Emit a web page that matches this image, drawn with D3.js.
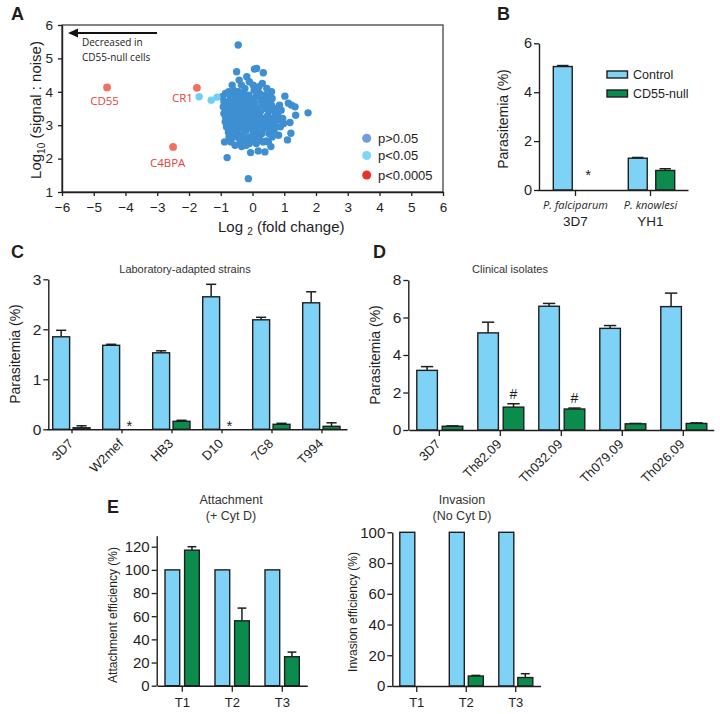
<!DOCTYPE html>
<html><head><meta charset="utf-8">
<script src="https://cdn.jsdelivr.net/npm/d3@7"></script>
<style>body{margin:0;background:#fff} svg{display:block}</style>
</head><body>
<svg id="fig" width="720" height="714"></svg>
<script>
// ===================== DATA =====================
// Panel A: volcano-like scatter (log2 fold change, log10 signal:noise)
const aNsPoints = [
 [-0.45,5.4],[-0.13,1.4],[1.75,3.37],[-0.8,2.03],[-0.88,2.5],[-0.76,2.8],[-0.5,4.6],[-0.18,4.45],
 [0.06,4.68],[0.34,4.57],[0.13,4.7],[-0.64,4.2],[-0.24,4.1],[0.02,4.2],[0.31,4.25],[1.02,3.87],
 [1.13,3.66],[1.23,3.6],[1.34,3.55],[1.36,3.3],[1.18,3.08],[1.21,2.76],[1.1,2.56],[0.58,2.36],
 [0.39,2.2],[0.18,2.23],[-0.06,2.18],[-0.34,2.36],[-0.55,2.4],[0.34,2.5],[0.44,2.53],[0.62,3.8],
 [0.71,3.37],[0.71,2.96],
 [-0.95,3.85],[-0.9,3.7],[-0.92,3.55],[-0.85,3.95],[-0.8,3.4],[-0.85,3.25],[-0.78,3.1],[-0.82,2.95],
 [-0.7,3.8],[-0.72,3.6],[-0.68,3.45],[-0.7,3.3],[-0.65,3.15],[-0.6,3.0],[-0.66,2.85],[-0.6,2.65],
 [-0.58,3.9],[-0.55,3.7],[-0.5,3.55],[-0.55,3.4],[-0.5,3.25],[-0.45,3.1],[-0.52,2.95],[-0.48,2.75],
 [-0.42,2.6],[-0.45,4.0],[-0.4,3.85],[-0.38,3.65],[-0.35,3.5],[-0.4,3.35],[-0.33,3.2],[-0.36,3.05],
 [-0.3,2.9],[-0.32,2.7],[-0.25,2.55],[-0.28,3.95],[-0.22,3.75],[-0.2,3.6],[-0.25,3.45],[-0.18,3.3],
 [-0.22,3.15],[-0.15,3.0],[-0.2,2.85],[-0.12,2.65],[-0.1,2.45],[-0.12,3.9],[-0.05,3.75],[-0.08,3.55],
 [-0.02,3.4],[-0.06,3.25],[0.0,3.1],[-0.03,2.95],[0.02,2.8],[0.05,2.6],[0.05,4.05],[0.1,3.85],
 [0.08,3.65],[0.12,3.5],[0.15,3.3],[0.1,3.15],[0.18,3.0],[0.12,2.85],[0.2,2.7],[0.25,2.55],
 [0.22,3.95],[0.28,3.75],[0.3,3.6],[0.25,3.4],[0.32,3.2],[0.28,3.05],[0.35,2.9],[0.3,2.75],
 [0.4,3.9],[0.45,3.7],[0.42,3.5],[0.48,3.3],[0.45,3.1],[0.5,2.95],[0.52,2.75],[0.55,3.85],
 [0.6,3.6],[0.58,3.45],[0.62,3.2],[0.65,3.05],[0.68,2.85],[0.75,3.5],[0.8,3.3],[0.78,3.15],[0.85,3.6],
 [-0.62,3.75],[-0.58,3.5],[-0.44,3.45],[-0.48,3.85],[-0.36,3.78],[-0.3,3.6],[-0.26,3.3],[-0.15,3.45],
 [-0.1,3.65],[-0.14,3.2],[-0.06,3.0],[0.02,3.3],[0.06,3.45],[-0.4,3.15],[-0.46,2.9],[-0.56,3.2],
 [-0.64,3.35],[-0.74,3.5],[-0.78,3.7],[-0.86,3.1],[-0.9,3.35],[-0.74,2.65],[-0.68,2.5],[-0.38,2.45],
 [-0.2,2.4],[0.12,2.45],[-0.6,4.05],[-0.75,4.0],[-0.35,4.2],[-0.1,4.3],[0.2,4.15],[-0.42,4.35],
 [0.45,4.1],[0.6,4.0],[0.9,3.45],[0.95,3.2],[0.88,2.95],[0.5,2.5],[0.62,2.65],[0.82,2.7],[0.98,3.05]
];
const aSigPoints = [[-1.68,3.85],[-1.3,3.75],[-1.12,3.84]];
const aHitNames = ["CD55","CR1","C4BPA"];
const aHitX = [-4.58,-1.75,-2.5];
const aHitY = [4.13,4.12,2.35];
const aXTicks = [-6,-5,-4,-3,-2,-1,0,1,2,3,4,5,6];
const aYTicks = [1,2,3,4,5,6];
const aLegend = ["p>0.05","p<0.05","p<0.0005"];

// Shared series names
const seriesNames = ["Control","CD55-null"];

// Panel B
const bSpecies = ["P. falciparum","P. knowlesi"];
const bStrains = ["3D7","YH1"];
const bControl = [5.05,1.3];
const bControlErr = [0.04,0.03];
const bNull = [0,0.8];
const bNullErr = [0,0.07];
const bMarks = ["*",""];
const bTicks = [0,2,4,6];

// Panel C
const cStrains = ["3D7","W2mef","HB3","D10","7G8","T994"];
const cControl = [1.85,1.68,1.53,2.65,2.19,2.53];
const cControlErr = [0.13,0.02,0.04,0.25,0.05,0.22];
const cNull = [0.03,0,0.16,0,0.1,0.06];
const cNullErr = [0.04,0,0.02,0,0.02,0.07];
const cMarks = ["","*","","*","",""];
const cTicks = [0,1,2,3];

// Panel D
const dIsolates = ["3D7","Th82.09","Th032.09","Th079.09","Th026.09"];
const dControl = [3.18,5.18,6.6,5.42,6.58];
const dControlErr = [0.2,0.57,0.15,0.15,0.72];
const dNull = [0.2,1.22,1.12,0.33,0.35];
const dNullErr = [0.02,0.18,0.05,0.02,0.03];
const dMarks = ["","#","#","",""];
const dTicks = [0,2,4,6,8];

// Panel E
const eTimes = ["T1","T2","T3"];
const eAttControl = [100,100,100];
const eAttNull = [117,56,25];
const eAttNullErr = [3,11,4];
const eAttTicks = [0,20,40,60,80,100,120];
const eInvControl = [100,100,100];
const eInvNull = [0,6.5,5.5];
const eInvNullErr = [0,0.4,2.5];
const eInvTicks = [0,20,40,60,80,100];

// ===================== STYLE =====================
const F = "'Liberation Sans', Arial, Helvetica, sans-serif";
const F2 = "'Open Sans', 'Noto Sans', sans-serif";
const INK = "#1e1e1e";
const C_CTRL = "#7dd2f6";
const C_NULL = "#0b8c4c";
const fmt = d3.format("d");

const svg = d3.select("#fig");

function styleAxis(g, size){
  g.select(".domain").attr("stroke",INK).attr("stroke-width",1.4);
  g.selectAll(".tick line").attr("stroke",INK).attr("stroke-width",1.3);
  g.selectAll(".tick text").attr("font-family",F).attr("font-size",size).attr("fill",INK);
  g.attr("font-family",null).attr("font-size",null);
}
function panelLetter(t,x,y){
  svg.append("text").attr("x",x).attr("y",y).text(t)
    .attr("font-family",F).attr("font-weight","bold").attr("font-size",18).attr("fill",INK);
}

// ===================== PANEL A =====================
(function(){
  const x = d3.scaleLinear().domain([-6,6]).range([62,443]);
  const y = d3.scaleLinear().domain([1,6]).range([192,25]);
  const g = svg.append("g");
  g.append("rect").attr("x",x(-6)).attr("y",y(6)).attr("width",x(6)-x(-6)).attr("height",y(1)-y(6))
    .attr("fill","none").attr("stroke","#333").attr("stroke-width",1.2);
  const ax = g.append("g").attr("transform",`translate(0,${y(1)})`)
    .call(d3.axisBottom(x).tickValues(aXTicks).tickFormat(fmt).tickSize(4).tickSizeOuter(0).tickPadding(6));
  styleAxis(ax,13.5);
  const ay = g.append("g").attr("transform",`translate(${x(-6)},0)`)
    .call(d3.axisLeft(y).tickValues(aYTicks).tickFormat(fmt).tickSize(4).tickSizeOuter(0).tickPadding(5));
  styleAxis(ay,13.5);
  // titles
  const yt = g.append("text").attr("transform","translate(40.5,110) rotate(-90)")
    .attr("text-anchor","middle").attr("font-family",F).attr("font-size",15).attr("fill",INK);
  yt.append("tspan").text("Log");
  yt.append("tspan").text("10").attr("font-size",10).attr("dy",4);
  yt.append("tspan").text(" (signal : noise)").attr("dy",-4);
  const xt = g.append("text").attr("x",218).attr("y",232)
    .attr("font-family",F).attr("font-size",15).attr("fill",INK);
  xt.append("tspan").text("Log ");
  xt.append("tspan").text("2").attr("font-size",10).attr("dy",3);
  xt.append("tspan").text(" (fold change)").attr("dy",-3);
  // arrow
  g.append("line").attr("x1",157).attr("x2",76).attr("y1",33).attr("y2",33)
    .attr("stroke","#111").attr("stroke-width",2);
  g.append("path").attr("d","M68,33 L78,28.5 L78,37.5 Z").attr("fill","#111");
  g.append("text").attr("x",82).attr("y",46).text("Decreased in")
    .attr("font-family",F2).attr("font-size",10).attr("fill","#222");
  g.append("text").attr("x",82).attr("y",60.5).text("CD55-null cells")
    .attr("font-family",F2).attr("font-size",10).attr("fill","#222");
  // points
  g.append("g").selectAll("circle").data(aNsPoints).join("circle")
    .attr("cx",d=>x(d[0])).attr("cy",d=>y(d[1])).attr("r",3.7).attr("fill","#3d8fd2");
  g.append("g").selectAll("circle").data(aSigPoints).join("circle")
    .attr("cx",d=>x(d[0])).attr("cy",d=>y(d[1])).attr("r",3.7).attr("fill","#6fd0f6");
  const hits = aHitNames.map((n,i)=>({n,x:aHitX[i],y:aHitY[i]}));
  g.append("g").selectAll("circle").data(hits).join("circle")
    .attr("cx",d=>x(d.x)).attr("cy",d=>y(d.y)).attr("r",3.9).attr("fill","#f2705f");
  const lab = {CD55:[-2.5,17.5,"middle"],CR1:[-4,14,"end"],C4BPA:[-5.5,20,"middle"]};
  g.append("g").selectAll("text").data(hits).join("text")
    .attr("x",d=>x(d.x)+lab[d.n][0]).attr("y",d=>y(d.y)+lab[d.n][1])
    .attr("text-anchor",d=>lab[d.n][2]).text(d=>d.n)
    .attr("font-family",F2).attr("font-size",11.5).attr("fill","#e8403a");
  // legend
  const lc = ["#6f9fd9","#7fd5f6","#e8322a"];
  aLegend.forEach((t,i)=>{
    const yy = [138.3,155.5,175][i];
    g.append("circle").attr("cx",366.7).attr("cy",yy).attr("r",4.5).attr("fill",lc[i]);
    g.append("text").attr("x",378).attr("y",yy+4.5).text(t)
      .attr("font-family",F).attr("font-size",13).attr("fill",INK);
  });
  panelLetter("A",11,20);
})();

// ===================== BAR PANEL HELPER =====================
function barPanel(cfg){
  const g = svg.append("g");
  const x = d3.scaleBand().domain(cfg.cats).range(cfg.xRange);
  const inner = d3.scaleBand().domain([0,1]).range(cfg.inner).paddingInner(cfg.pad);
  const y = d3.scaleLinear().domain(cfg.yDomain).range(cfg.yRange);
  const y0 = y(0);
  const rows = cfg.cats.map((c,i)=>({c,i}));
  const series = [
    {k:0,vals:cfg.ctrl,errs:cfg.ctrlErr,fill:C_CTRL},
    {k:1,vals:cfg.nul,errs:cfg.nulErr,fill:C_NULL}
  ];
  const bw = inner.bandwidth();
  series.forEach(s=>{
    rows.forEach(r=>{
      const v = s.vals[r.i]; const e = s.errs ? s.errs[r.i] : 0;
      const bx = x(r.c)+inner(s.k);
      const cx = bx + bw/2;
      if (e>0){
        g.append("line").attr("x1",cx).attr("x2",cx).attr("y1",y(v)).attr("y2",y(v+e))
          .attr("stroke",INK).attr("stroke-width",1.5);
        g.append("line").attr("x1",cx-bw*0.3).attr("x2",cx+bw*0.3).attr("y1",y(v+e)).attr("y2",y(v+e))
          .attr("stroke",INK).attr("stroke-width",1.5);
      }
      if (v>0){
        g.append("rect").attr("x",bx).attr("y",y(v)).attr("width",bw).attr("height",y0-y(v))
          .attr("fill",s.fill).attr("stroke",INK).attr("stroke-width",1.4);
      }
    });
  });
  if (cfg.marks){
    rows.forEach(r=>{
      const m = cfg.marks[r.i]; if(!m) return;
      const cx = x(r.c)+inner(1)+bw/2;
      const top = y(cfg.nul[r.i] + (cfg.nulErr?cfg.nulErr[r.i]:0));
      const yy = m==="*" ? y0 + cfg.starDy : top - 5;
      g.append("text").attr("x",cx+(m==="*"?-2:0)).attr("y",yy).attr("text-anchor","middle").text(m)
        .attr("font-family",F).attr("font-size",m==="*"?15:14).attr("fill",INK);
    });
  }
  const ay = g.append("g").attr("transform",`translate(${cfg.yAxisX},0)`)
    .call(d3.axisLeft(y).tickValues(cfg.yTicks).tickFormat(fmt).tickSize(5).tickSizeOuter(0).tickPadding(2));
  styleAxis(ay,cfg.tickSize);
  const ax = g.append("g").attr("transform",`translate(0,${y0})`)
    .call(d3.axisBottom(x).tickSize(cfg.xTick).tickSizeOuter(0).tickFormat(""));
  styleAxis(ax,cfg.tickSize);
  if (cfg.rotate){
    rows.forEach(r=>{
      const cx = x(r.c)+x.bandwidth()/2;
      g.append("text").attr("transform",`translate(${cx+2},${y0+15}) rotate(-45)`)
        .attr("text-anchor","end").text(r.c)
        .attr("font-family",F).attr("font-size",cfg.labelSize).attr("fill",INK);
    });
  } else if (cfg.labels2){
    rows.forEach(r=>{
      const cx = x(r.c)+x.bandwidth()/2;
      g.append("text").attr("x",cx).attr("y",y0+19).attr("text-anchor","middle")
        .text(cfg.labels2[r.i]).attr("font-family",F2).attr("font-style","italic")
        .attr("font-size",11).attr("fill",INK);
      g.append("text").attr("x",cx).attr("y",y0+36).attr("text-anchor","middle")
        .text(r.c).attr("font-family",F).attr("font-size",13.5).attr("fill",INK);
    });
  } else {
    rows.forEach(r=>{
      const cx = x(r.c)+x.bandwidth()/2;
      g.append("text").attr("x",cx).attr("y",y0+21).attr("text-anchor","middle")
        .text(r.c).attr("font-family",F).attr("font-size",13).attr("fill",INK);
    });
  }
  g.append("text").attr("transform",`translate(${cfg.yTitleX},${cfg.yTitleY}) rotate(-90)`)
    .attr("text-anchor","middle").text(cfg.yTitle)
    .attr("font-family",F).attr("font-size",cfg.yTitleSize).attr("fill",INK);
  if (cfg.title){
    cfg.title.forEach((t,i)=>{
      g.append("text").attr("x",cfg.titleX).attr("y",cfg.titleY+i*cfg.titleLH)
        .attr("text-anchor","middle").text(t)
        .attr("font-family",F).attr("font-size",cfg.titleSize).attr("fill","#333");
    });
  }
  return {g,x,y};
}

// ===================== PANEL B =====================
(function(){
  barPanel({
    cats:bStrains, labels2:bSpecies, xRange:[538,688], inner:[15.3,61.7], pad:0.31,
    yDomain:[0,6], yRange:[190,43.3], yTicks:bTicks, yAxisX:539, tickSize:14.5, xTick:6,
    ctrl:bControl, ctrlErr:bControlErr, nul:bNull, nulErr:bNullErr, marks:bMarks, starDy:-10,
    yTitle:"Parasitemia (%)", yTitleX:508, yTitleY:119, yTitleSize:14
  });
  seriesNames.forEach((n,i)=>{
    const yy = [74.5,93.5][i];
    svg.append("rect").attr("x",607).attr("y",yy-3.5).attr("width",20.5).attr("height",7)
      .attr("fill",i? C_NULL : C_CTRL).attr("stroke",INK).attr("stroke-width",1.4);
    svg.append("text").attr("x",633).attr("y",yy+4.5).text(n)
      .attr("font-family",F).attr("font-size",12.5).attr("fill",INK);
  });
  panelLetter("B",497,20);
})();

// ===================== PANEL C =====================
barPanel({
  cats:cStrains, rotate:true, labelSize:13, xRange:[47,347], inner:[5.7,43], pad:0.17,
  yDomain:[0,3], yRange:[429.3,279.3], yTicks:cTicks, yAxisX:48.3, tickSize:15.5, xTick:4,
  ctrl:cControl, ctrlErr:cControlErr, nul:cNull, nulErr:cNullErr, marks:cMarks, starDy:1.5,
  yTitle:"Parasitemia (%)", yTitleX:20, yTitleY:354, yTitleSize:14,
  title:["Laboratory-adapted strains"], titleX:185, titleY:273, titleLH:0, titleSize:11
});
panelLetter("C",11,258);

// ===================== PANEL D =====================
barPanel({
  cats:dIsolates, rotate:true, labelSize:13, xRange:[408.8,713.8], inner:[8,54], pad:0.19,
  yDomain:[0,8], yRange:[430,280], yTicks:dTicks, yAxisX:408.3, tickSize:15.5, xTick:6,
  ctrl:dControl, ctrlErr:dControlErr, nul:dNull, nulErr:dNullErr, marks:dMarks, starDy:0,
  yTitle:"Parasitemia (%)", yTitleX:380, yTitleY:355, yTitleSize:14,
  title:["Clinical isolates"], titleX:510, titleY:273, titleLH:0, titleSize:11
});
panelLetter("D",373,258);

// ===================== PANEL E =====================
barPanel({
  cats:eTimes, xRange:[157.3,307.3], inner:[7.7,42], pad:0.25,
  yDomain:[0,129.5], yRange:[685.7,535.7], yTicks:eAttTicks, yAxisX:156.7, tickSize:15, xTick:6,
  ctrl:eAttControl, ctrlErr:null, nul:eAttNull, nulErr:eAttNullErr,
  yTitle:"Attachment efficiency (%)", yTitleX:117, yTitleY:615, yTitleSize:12,
  title:["Attachment","(+ Cyt D)"], titleX:231, titleY:504, titleLH:15.5, titleSize:12.5
});
barPanel({
  cats:eTimes, xRange:[392,540.5], inner:[7.8,41.8], pad:0.21,
  yDomain:[0,100], yRange:[686,532.3], yTicks:eInvTicks, yAxisX:392.3, tickSize:15, xTick:6,
  ctrl:eInvControl, ctrlErr:null, nul:eInvNull, nulErr:eInvNullErr,
  yTitle:"Invasion efficiency (%)", yTitleX:357, yTitleY:612, yTitleSize:12,
  title:["Invasion","(No Cyt D)"], titleX:462, titleY:504, titleLH:15.5, titleSize:12.5
});
panelLetter("E",107,513);
</script>
</body></html>
